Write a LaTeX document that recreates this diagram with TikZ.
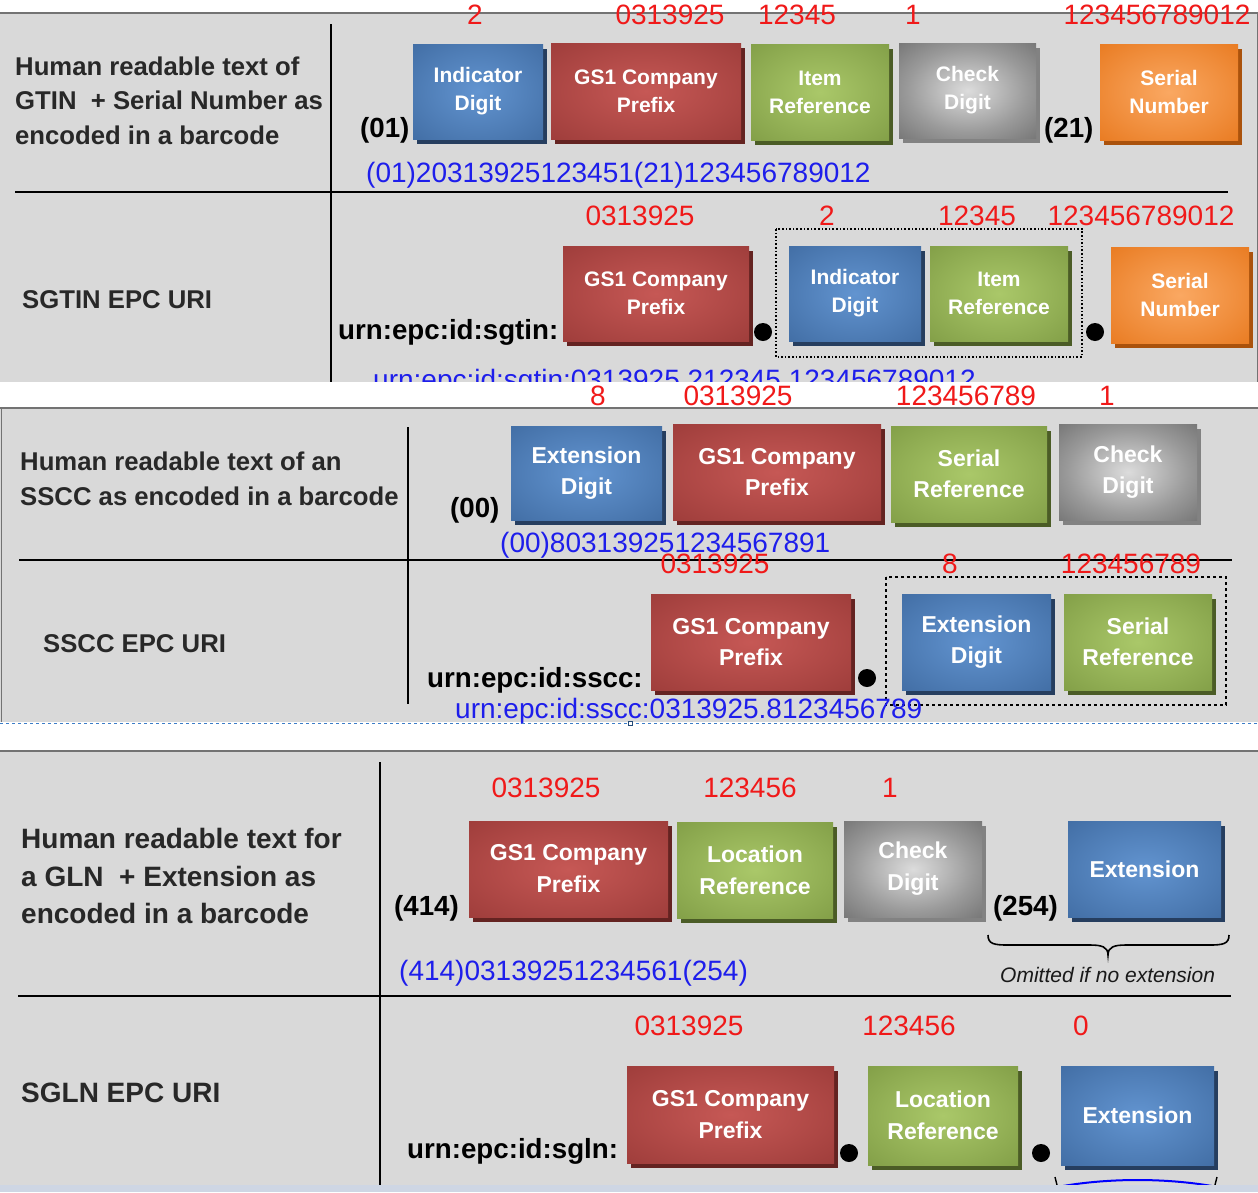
\documentclass[tikz,border=0pt]{standalone}
\usepackage{fontspec}
\setmainfont{Liberation Sans}
\usetikzlibrary{shadows}

\definecolor{panelgray}{RGB}{217,217,217}
\definecolor{edgegray}{RGB}{115,115,115}
\definecolor{lefttxt}{RGB}{40,40,40}
\definecolor{numred}{RGB}{240,25,25}
\definecolor{codeblue}{RGB}{30,30,235}
\definecolor{bluein}{RGB}{98,148,208}
\definecolor{blueout}{RGB}{55,97,150}
\definecolor{bluesh}{RGB}{38,62,95}
\definecolor{redin}{RGB}{198,88,85}
\definecolor{redout}{RGB}{145,52,50}
\definecolor{redsh}{RGB}{100,35,33}
\definecolor{greenin}{RGB}{170,200,105}
\definecolor{greenout}{RGB}{117,145,60}
\definecolor{greensh}{RGB}{75,92,38}
\definecolor{grayin}{RGB}{220,220,220}
\definecolor{grayout}{RGB}{88,88,88}
\definecolor{graysh}{RGB}{130,130,130}
\definecolor{orangein}{RGB}{250,168,98}
\definecolor{orangeout}{RGB}{227,108,12}
\definecolor{orangesh}{RGB}{170,82,12}
\definecolor{stripblue}{RGB}{206,214,228}
\definecolor{dashblue}{RGB}{60,125,200}

\pgfdeclareradialshading{shblue}{\pgfpoint{0bp}{0bp}}{color(0bp)=(bluein); color(22bp)=(bluein!55!blueout); color(48bp)=(blueout); color(100bp)=(blueout)}
\pgfdeclareradialshading{shred}{\pgfpoint{0bp}{0bp}}{color(0bp)=(redin); color(22bp)=(redin!55!redout); color(48bp)=(redout); color(100bp)=(redout)}
\pgfdeclareradialshading{shgreen}{\pgfpoint{0bp}{0bp}}{color(0bp)=(greenin); color(22bp)=(greenin!55!greenout); color(48bp)=(greenout); color(100bp)=(greenout)}
\pgfdeclareradialshading{shgray}{\pgfpoint{0bp}{0bp}}{color(0bp)=(grayin); color(22bp)=(grayin!50!grayout); color(48bp)=(grayout); color(100bp)=(grayout)}
\pgfdeclareradialshading{shorange}{\pgfpoint{0bp}{0bp}}{color(0bp)=(orangein); color(22bp)=(orangein!55!orangeout); color(48bp)=(orangeout); color(100bp)=(orangeout)}

\begin{document}
\begin{tikzpicture}[x=1pt, y=-1pt,
  box/.style={anchor=north west, inner sep=0pt, outer sep=0pt, text=white, align=center},
  bxA/.style={box, font=\bfseries\fontsize{21}{28}\selectfont},
  bxB/.style={box, font=\bfseries\fontsize{23}{31}\selectfont},
  bxC/.style={box, font=\bfseries\fontsize{23}{32}\selectfont},
  shd/.style={drop shadow={shadow xshift=4pt, shadow yshift=-5pt, opacity=1, fill=#1}},
  blu/.style={shade, shading=shblue, shd=bluesh},
  rd/.style={shade, shading=shred, shd=redsh},
  grn/.style={shade, shading=shgreen, shd=greensh},
  gry/.style={shade, shading=shgray, shd=graysh},
  org/.style={shade, shading=shorange, shd=orangesh},
  lblA/.style={anchor=base west, inner sep=0pt, text=lefttxt, font=\bfseries\fontsize{25.7}{30}\selectfont},
  lblC/.style={anchor=base west, inner sep=0pt, text=lefttxt, font=\bfseries\fontsize{28}{32}\selectfont},
  code/.style={anchor=base west, inner sep=0pt, text=black, font=\bfseries\fontsize{27.7}{30}\selectfont},
  num/.style={anchor=base, inner sep=0pt, text=numred, font=\fontsize{28}{30}\selectfont},
  blueline/.style={anchor=base west, inner sep=0pt, text=codeblue, font=\fontsize{28}{30}\selectfont},
  dot/.style={circle, fill=black, inner sep=0pt, minimum size=18pt},
  divider/.style={line width=2pt, black},
  topline/.style={line width=2pt, edgegray}
]
% page
\fill[white] (0,0) rectangle (1258,1192);
\useasboundingbox (0,0) rectangle (1258,1192);

%================ PANEL 1 =================
\fill[panelgray] (0,13) rectangle (1258,382);
\draw[topline] (0,13) -- (1258,13);
\draw[edgegray, line width=1pt] (1257,13) -- (1257,382);
\draw[divider] (331,24) -- (331,382);
\draw[divider] (15,192) -- (1228,192);

\node[lblA] (p1a) at (15,75) {Human readable text of};
\node[lblA] (p1b) at (15,109) {GTIN\ \ + Serial Number as};
\node[lblA] (p1c) at (15,144) {encoded in a barcode};
\node[lblA] (p1d) at (22,308) {SGTIN EPC URI};

\node[code] (c01) at (360,137) {(01)};
\node[bxA, blu, minimum width=130pt, minimum height=95pt] (ind1) at (413,44) {Indicator\\Digit};
\node[bxA, rd, minimum width=190pt, minimum height=96pt] (gcp1) at (551,43) {GS1 Company\\Prefix};
\node[bxA, grn, minimum width=138pt, minimum height=96pt] (itm1) at (751,44) {Item\\Reference};
\node[bxA, gry, minimum width=137pt, minimum height=95pt] (chk1) at (899,43) {Check\\Digit};
\node[code] (c21) at (1044,137) {(21)};
\node[bxA, org, minimum width=138pt, minimum height=96pt] (ser1) at (1100,44) {Serial\\Number};

\node[num] (n1a) at (475,24) {2};
\node[num] (n1b) at (670,24) {0313925};
\node[num] (n1c) at (797,24) {12345};
\node[num] (n1d) at (913,24) {1};
\node[num] (n1e) at (1157,24) {123456789012};

\node[blueline] (b1) at (366,182) {(01)20313925123451(21)123456789012};

\node[code] (urn1) at (338,339) {urn:epc:id:sgtin:};
\node[bxA, rd, minimum width=186pt, minimum height=95pt] (gcp2) at (563,246) {GS1 Company\\Prefix};
\node[dot] (d1) at (763,332) {};
\draw[dotted, line width=1.6pt] (776,229) rectangle (1082,357);
\node[bxA, blu, minimum width=132pt, minimum height=95pt] (ind2) at (789,246) {Indicator\\Digit};
\node[bxA, grn, minimum width=138pt, minimum height=95pt] (itm2) at (930,246) {Item\\Reference};
\node[dot] (d2) at (1095,332) {};
\node[bxA, org, minimum width=138pt, minimum height=96pt] (ser2) at (1111,247) {Serial\\Number};

\node[num] (n2a) at (640,225) {0313925};
\node[num] (n2b) at (827,225) {2};
\node[num] (n2c) at (977,225) {12345};
\node[num] (n2d) at (1141,225) {123456789012};

\node[blueline] (b2) at (373,389) {urn:epc:id:sgtin:0313925.212345.123456789012};

% gap between panels
\fill[white] (0,382) rectangle (1258,407);

%================ PANEL 2 =================
\fill[panelgray] (0,408) rectangle (1258,722);
\draw[topline] (0,408) -- (1258,408);
\draw[edgegray, line width=1pt] (1,408) -- (1,722);
\draw[divider] (408,427) -- (408,704);
\draw[divider] (19,560) -- (1232,560);

\node[lblA] (p2a) at (20,470) {Human readable text of an};
\node[lblA] (p2b) at (20,505) {SSCC as encoded in a barcode};
\node[lblA] (p2c) at (43,652) {SSCC EPC URI};

\node[code] (c00) at (450,517) {(00)};
\node[bxB, blu, minimum width=151pt, minimum height=94pt] (ext3) at (511,426) {Extension\\Digit};
\node[bxB, rd, minimum width=208pt, minimum height=96pt] (gcp3) at (673,424) {GS1 Company\\Prefix};
\node[bxB, grn, minimum width=156pt, minimum height=96pt] (srf3) at (891,426) {Serial\\Reference};
\node[bxB, gry, minimum width=138pt, minimum height=96pt] (chk3) at (1059,424) {Check\\Digit};

\node[num] (n3a) at (598,405) {8};
\node[num] (n3b) at (738,405) {0313925};
\node[num] (n3c) at (966,405) {123456789};
\node[num] (n3d) at (1107,405) {1};

\node[blueline] (b3) at (500,552) {(00)803139251234567891};

\node[code] (urn2) at (427,687) {urn:epc:id:sscc:};
\node[bxB, rd, minimum width=200pt, minimum height=96pt] (gcp4) at (651,594) {GS1 Company\\Prefix};
\node[dot] (d3) at (867,678) {};
\draw[dashed, line width=1.6pt] (886,577) rectangle (1226,705);
\node[bxB, blu, minimum width=149pt, minimum height=96pt] (ext4) at (902,594) {Extension\\Digit};
\node[bxB, grn, minimum width=148pt, minimum height=96pt] (srf4) at (1064,594) {Serial\\Reference};

\node[num] (n4a) at (715,573) {0313925};
\node[num] (n4b) at (950,573) {8};
\node[num] (n4c) at (1131,573) {123456789};

\node[blueline] (b4) at (455,718) {urn:epc:id:sscc:0313925.8123456789};

\draw[dashblue, dashed, line width=0.8pt] (0,723) -- (1258,723);
\draw[dashblue!60!black, line width=0.6pt, fill=white] (628,721) rectangle (632,725);

%================ PANEL 3 =================
\fill[panelgray] (0,751) rectangle (1258,1185);
\draw[topline] (0,751) -- (1258,751);
\draw[divider] (380,762) -- (380,1185);
\draw[divider] (18,996) -- (1231,996);

\node[lblC] (p3a) at (21,848) {Human readable text for};
\node[lblC] (p3b) at (21,886) {a GLN\ \ + Extension as};
\node[lblC] (p3c) at (21,923) {encoded in a barcode};
\node[lblC] (p3d) at (21,1102) {SGLN EPC URI};

\node[code] (c414) at (394,915) {(414)};
\node[bxC, rd, minimum width=199pt, minimum height=96pt] (gcp5) at (469,821) {GS1 Company\\Prefix};
\node[bxC, grn, minimum width=156pt, minimum height=96pt] (loc5) at (677,822) {Location\\Reference};
\node[bxC, gry, minimum width=138pt, minimum height=96pt] (chk5) at (844,821) {Check\\Digit};
\node[code] (c254) at (993,915) {(254)};
\node[bxC, blu, minimum width=153pt, minimum height=96pt] (ext5) at (1068,821) {Extension};

\node[num] (n5a) at (546,797) {0313925};
\node[num] (n5b) at (750,797) {123456};
\node[num] (n5c) at (890,797) {1};

\draw[line width=1.6pt, black] (988,935) .. controls (988,944) and (994,945) .. (1008,945)
  -- (1090,945) .. controls (1102,945) and (1108,947) .. (1108,955)
  .. controls (1108,947) and (1114,945) .. (1126,945)
  -- (1209,945) .. controls (1223,945) and (1229,944) .. (1229,935);
\node[anchor=base west, inner sep=0pt, font=\itshape\fontsize{21}{24}\selectfont, text=black!90] (omit) at (1000,982) {Omitted if no extension};

\node[blueline] (b5) at (399,980) {(414)03139251234561(254)};

\node[code] (urn3) at (407,1158) {urn:epc:id:sgln:};
\node[bxC, rd, minimum width=207pt, minimum height=97pt] (gcp6) at (627,1066) {GS1 Company\\Prefix};
\node[dot] (d4) at (849,1153) {};
\node[bxC, grn, minimum width=150pt, minimum height=99pt] (loc6) at (868,1066) {Location\\Reference};
\node[dot] (d5) at (1041,1153) {};
\node[bxC, blu, minimum width=153pt, minimum height=99pt] (ext6) at (1061,1066) {Extension};

\node[num] (n6a) at (689,1035) {0313925};
\node[num] (n6b) at (909,1035) {123456};
\node[num] (n6c) at (1081,1035) {0};

\draw[line width=1.4pt, black] (1055,1177) -- (1057,1185);
\draw[line width=1.4pt, black] (1217,1177) -- (1215,1185);
\draw[line width=2pt, blue] (1063,1186) .. controls (1110,1178) and (1165,1178) .. (1212,1186);

% bottom strip
\fill[stripblue] (0,1185) rectangle (1258,1192);
\end{tikzpicture}
\end{document}
